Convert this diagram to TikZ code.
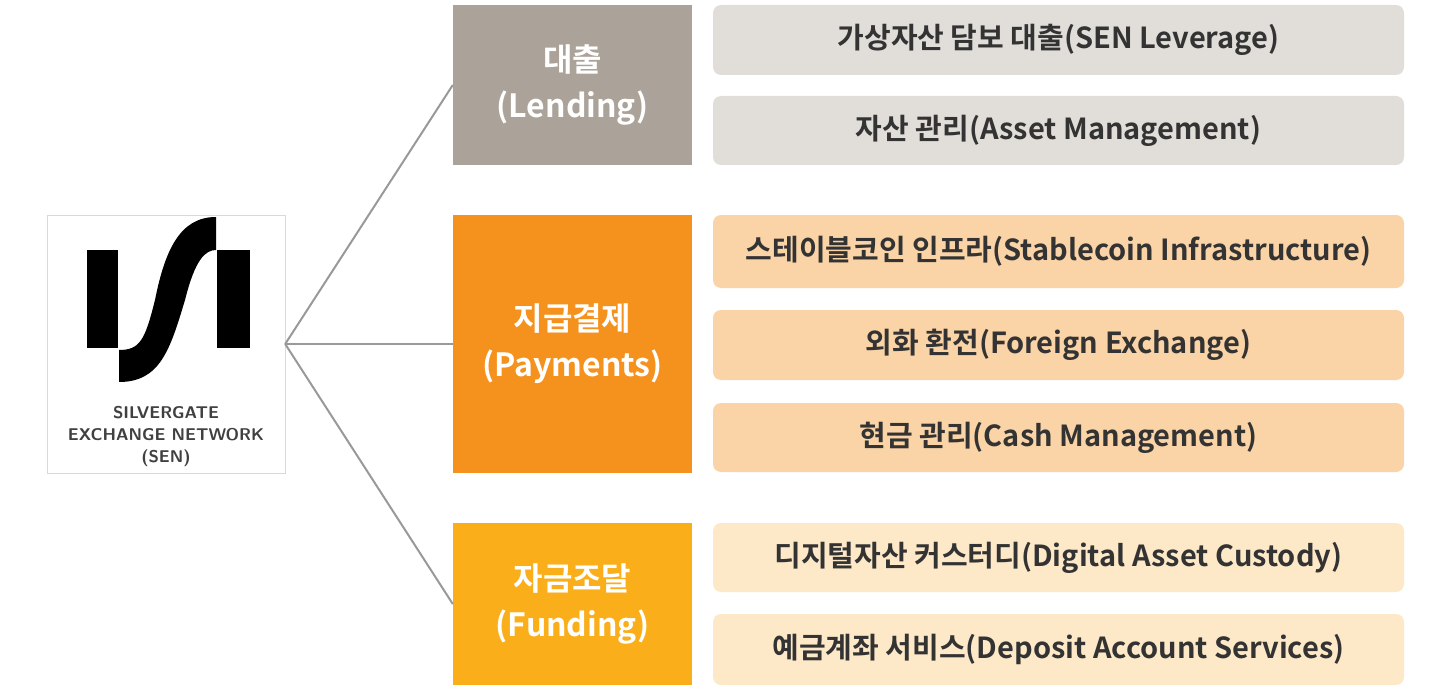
\documentclass[tikz,border=0pt]{standalone}
\usepackage{fontspec}
\setmainfont{Noto Sans CJK KR}[BoldFont={Noto Sans CJK KR Bold}]
\usetikzlibrary{positioning}
\definecolor{lendc}{HTML}{ABA39A}
\definecolor{payc}{HTML}{F5921E}
\definecolor{fundc}{HTML}{FAAE1A}
\definecolor{lendi}{HTML}{E1DEDA}
\definecolor{payi}{HTML}{FAD3A6}
\definecolor{fundi}{HTML}{FDE8C7}
\begin{document}
\begin{tikzpicture}[x=1pt,y=-1pt]
  \tikzstyle{cat}=[align=center, text=white, font=\bfseries\fontsize{32}{46}\selectfont, minimum width=239pt, inner sep=0pt]
  \tikzstyle{item}=[rounded corners=8pt, text=black!80, font=\bfseries\fontsize{29}{32}\selectfont, minimum width=691pt, inner sep=0pt]
  \tikzstyle{link}=[draw=gray!80, line width=2pt]
  \useasboundingbox (0,0) rectangle (1444,690);
  % logo
  \node [draw=gray!30, fill=white, minimum width=238pt, minimum height=258pt, inner sep=0pt] (sen) at (166,344) {};
  \fill (87,250) rectangle (118,348);
  \fill (217,250) rectangle (250,348);
  \fill (119,350) -- (119,382) .. controls (160,382) and (170,350) .. (185,300) .. controls (195,260) and (205,250) .. (216,250) -- (216,217) .. controls (180,217) and (165,250) .. (155,300) .. controls (145,340) and (140,350) .. (119,350) -- cycle;
  \node [draw=none, font=\sffamily\bfseries\fontsize{17}{22}\selectfont, text=black!75, align=center] (sentxt) at (166,437) {SILVERGATE\\EXCHANGE NETWORK\\(SEN)};
  % categories
  \node [cat, fill=lendc, minimum height=160pt] (lend) at (572.5,85) {대출\\(Lending)};
  \node [cat, fill=payc, minimum height=258pt] (pay) at (572.5,344) {지급결제\\(Payments)};
  \node [cat, fill=fundc, minimum height=162pt] (fund) at (572.5,604) {자금조달\\(Funding)};
  % items
  \node [item, fill=lendi, minimum height=70pt] (i1) at (1058.5,40) {가상자산 담보 대출(SEN Leverage)};
  \node [item, fill=lendi, minimum height=69pt] (i2) at (1058.5,130.5) {자산 관리(Asset Management)};
  \node [item, fill=payi, minimum height=73pt] (i3) at (1058.5,251.5) {스테이블코인 인프라(Stablecoin Infrastructure)};
  \node [item, fill=payi, minimum height=70pt] (i4) at (1058.5,345) {외화 환전(Foreign Exchange)};
  \node [item, fill=payi, minimum height=69pt] (i5) at (1058.5,437.5) {현금 관리(Cash Management)};
  \node [item, fill=fundi, minimum height=69pt] (i6) at (1058.5,557.5) {디지털자산 커스터디(Digital Asset Custody)};
  \node [item, fill=fundi, minimum height=71pt] (i7) at (1058.5,649.5) {예금계좌 서비스(Deposit Account Services)};

  \draw [link] (sen.east) -- (lend.west);
  \draw [link] (sen.east) -- (pay.west);
  \draw [link] (sen.east) -- (fund.west);
\end{tikzpicture}
\end{document}
